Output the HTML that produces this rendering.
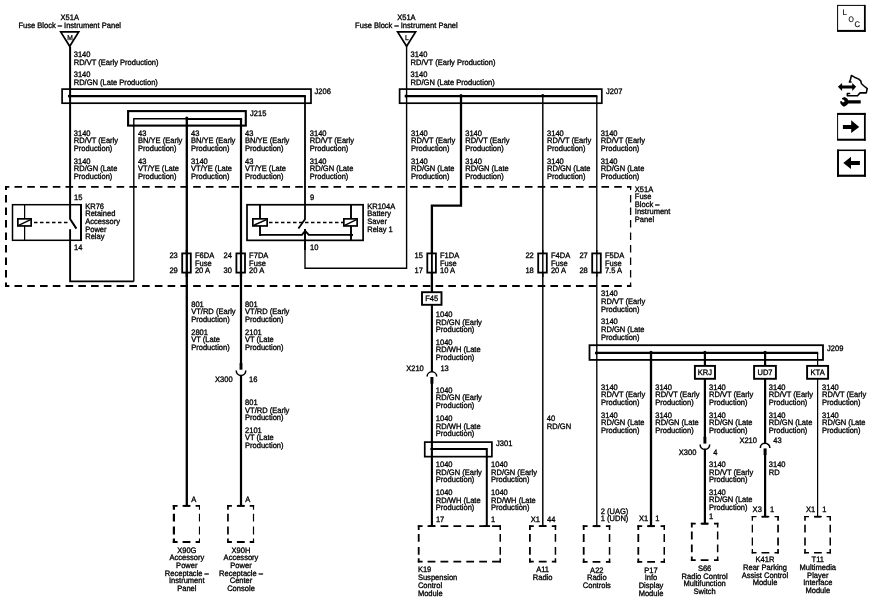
<!DOCTYPE html>
<html lang="en">
<head>
<meta charset="utf-8">
<title>Wiring diagram</title>
<style>
html,body{margin:0;padding:0;background:#fff;}
body{width:870px;height:612px;overflow:hidden;}
svg{display:block;will-change:transform;}
svg text{text-rendering:geometricPrecision;font-family:"Liberation Sans",Arial,Helvetica,sans-serif;font-size:7.9px;fill:#000;stroke:#000;stroke-width:0.32px;}
svg text.s{font-size:7.0px;stroke-width:0.3px;}
svg text.i{font-size:8px;stroke-width:0.15px;}
</style>
</head>
<body>
<svg width="870" height="612" viewBox="0 0 870 612">
<rect x="0" y="0" width="870" height="612" fill="#fff" stroke="none"/>
<g fill="none" stroke="#000" stroke-linecap="butt">
<text transform="translate(69.70 20.00) scale(0.955 1)" text-anchor="middle">X51A</text>
<text transform="translate(69.70 27.90) scale(0.955 1)" text-anchor="middle">Fuse Block – Instrument Panel</text>
<path d="M60.7 31.85 L78.7 31.85 L69.7 46.3 Z" stroke-width="1.7" stroke-linejoin="miter" stroke-miterlimit="10"/>
<text transform="translate(70.10 40.10) scale(0.955 1)" text-anchor="middle" class="s">M</text>
<path d="M70.10 46.50 L70.10 219.00 L76.40 228.60" stroke-width="2.0" stroke-linejoin="miter"/>
<text transform="translate(73.70 57.30) scale(0.955 1)">3140</text>
<text transform="translate(73.70 65.00) scale(0.955 1)">RD/VT (Early Production)</text>
<text transform="translate(73.70 77.20) scale(0.955 1)">3140</text>
<text transform="translate(73.70 84.90) scale(0.955 1)">RD/GN (Late Production)</text>
<rect x="62.10" y="89.10" width="248.90" height="14.10" stroke-width="1.7" />
<path d="M68.60 96.10 L305.90 96.10" stroke-width="2.1" />
<circle cx="69.40" cy="96.10" r="1.5" fill="#000" stroke="none"/>
<text transform="translate(314.50 94.30) scale(0.955 1)">J206</text>
<rect x="128.10" y="111.10" width="117.70" height="14.50" stroke-width="2.1" />
<text transform="translate(250.00 115.90) scale(0.955 1)">J215</text>
<path d="M133.80 281.40 L133.80 118.70 L186.80 118.70" stroke-width="1.4" stroke-linejoin="miter"/>
<path d="M186.80 118.90 L242.10 118.90" stroke-width="2.0" />
<circle cx="186.80" cy="118.20" r="1.6" fill="#000" stroke="none"/>
<text transform="translate(73.80 135.60) scale(0.955 1)">3140</text>
<text transform="translate(73.80 143.20) scale(0.955 1)">RD/VT (Early</text>
<text transform="translate(73.80 150.80) scale(0.955 1)">Production)</text>
<text transform="translate(73.80 163.60) scale(0.955 1)">3140</text>
<text transform="translate(73.80 171.20) scale(0.955 1)">RD/GN (Late</text>
<text transform="translate(73.80 178.80) scale(0.955 1)">Production)</text>
<text transform="translate(138.00 135.60) scale(0.955 1)">43</text>
<text transform="translate(138.00 143.20) scale(0.955 1)">BN/YE (Early</text>
<text transform="translate(138.00 150.80) scale(0.955 1)">Production)</text>
<text transform="translate(138.00 163.60) scale(0.955 1)">43</text>
<text transform="translate(138.00 171.20) scale(0.955 1)">VT/YE (Late</text>
<text transform="translate(138.00 178.80) scale(0.955 1)">Production)</text>
<text transform="translate(191.00 135.60) scale(0.955 1)">43</text>
<text transform="translate(191.00 143.20) scale(0.955 1)">BN/YE (Early</text>
<text transform="translate(191.00 150.80) scale(0.955 1)">Production)</text>
<text transform="translate(191.00 163.60) scale(0.955 1)">3140</text>
<text transform="translate(191.00 171.20) scale(0.955 1)">VT/YE (Late</text>
<text transform="translate(191.00 178.80) scale(0.955 1)">Production)</text>
<text transform="translate(245.00 135.60) scale(0.955 1)">43</text>
<text transform="translate(245.00 143.20) scale(0.955 1)">BN/YE (Early</text>
<text transform="translate(245.00 150.80) scale(0.955 1)">Production)</text>
<text transform="translate(245.00 163.60) scale(0.955 1)">43</text>
<text transform="translate(245.00 171.20) scale(0.955 1)">VT/YE (Late</text>
<text transform="translate(245.00 178.80) scale(0.955 1)">Production)</text>
<text transform="translate(309.80 135.60) scale(0.955 1)">3140</text>
<text transform="translate(309.80 143.20) scale(0.955 1)">RD/VT (Early</text>
<text transform="translate(309.80 150.80) scale(0.955 1)">Production)</text>
<text transform="translate(309.80 163.60) scale(0.955 1)">3140</text>
<text transform="translate(309.80 171.20) scale(0.955 1)">RD/GN (Late</text>
<text transform="translate(309.80 178.80) scale(0.955 1)">Production)</text>
<path d="M5.00 186.90 L631.20 186.90" stroke-width="1.9" stroke-dasharray="7.6 5.16" stroke-dashoffset="3.26"/>
<path d="M5.00 286.00 L631.20 286.00" stroke-width="2.0" stroke-dasharray="7.6 5.16" stroke-dashoffset="3.26"/>
<path d="M6.00 186.00 L6.00 287.00" stroke-width="2.0" stroke-dasharray="7.5 5" stroke-dashoffset="3.5"/>
<path d="M630.60 186.00 L630.60 287.00" stroke-width="1.3" stroke-dasharray="7.5 5" stroke-dashoffset="3.5"/>
<text transform="translate(634.80 191.60) scale(0.955 1)">X51A</text>
<text transform="translate(634.80 199.20) scale(0.955 1)">Fuse</text>
<text transform="translate(634.80 206.80) scale(0.955 1)">Block –</text>
<text transform="translate(634.80 214.40) scale(0.955 1)">Instrument</text>
<text transform="translate(634.80 222.00) scale(0.955 1)">Panel</text>
<rect x="12.50" y="204.70" width="68.50" height="35.60" stroke-width="1.5" />
<path d="M81.00 204.00 L81.00 241.10" stroke-width="2.0" />
<path d="M24.60 204.70 L24.60 240.30" stroke-width="1.25" />
<rect x="17.85" y="218.85" width="13.30" height="7.10" stroke-width="1.7" fill="#fff"/>
<path d="M18.60 225.30 L30.60 219.60" stroke-width="1.4" />
<path d="M34.00 222.50 L68.00 222.50" stroke-width="1.3" stroke-dasharray="3.5 2.5"/>
<path d="M70.10 229.20 L70.10 281.40 L133.80 281.40" stroke-width="1.9" stroke-linejoin="miter"/>
<text transform="translate(74.00 199.90) scale(0.955 1)">15</text>
<text transform="translate(74.00 249.90) scale(0.955 1)">14</text>
<text transform="translate(85.20 208.80) scale(0.955 1)">KR76</text>
<text transform="translate(85.20 216.45) scale(0.955 1)">Retained</text>
<text transform="translate(85.20 224.10) scale(0.955 1)">Accessory</text>
<text transform="translate(85.20 231.75) scale(0.955 1)">Power</text>
<text transform="translate(85.20 239.40) scale(0.955 1)">Relay</text>
<path d="M186.80 118.40 L186.80 505.50" stroke-width="2.3" />
<rect x="182.20" y="253.40" width="8.60" height="19.20" stroke-width="1.8" fill="#fff"/>
<path d="M186.80 250.00 L186.80 277.00" stroke-width="2.3" />
<text transform="translate(169.40 257.90) scale(0.955 1)">23</text>
<text transform="translate(169.40 273.40) scale(0.955 1)">29</text>
<text transform="translate(194.90 257.90) scale(0.955 1)">F6DA</text>
<text transform="translate(194.90 265.55) scale(0.955 1)">Fuse</text>
<text transform="translate(194.90 273.20) scale(0.955 1)">20 A</text>
<path d="M241.00 118.90 L241.00 363.00" stroke-width="2.2" />
<rect x="236.40" y="253.40" width="8.60" height="19.20" stroke-width="1.8" fill="#fff"/>
<path d="M241.00 250.00 L241.00 277.00" stroke-width="2.2" />
<text transform="translate(223.60 257.90) scale(0.955 1)">24</text>
<text transform="translate(223.60 273.40) scale(0.955 1)">30</text>
<text transform="translate(249.10 257.90) scale(0.955 1)">F7DA</text>
<text transform="translate(249.10 265.55) scale(0.955 1)">Fuse</text>
<text transform="translate(249.10 273.20) scale(0.955 1)">20 A</text>
<rect x="247.00" y="204.75" width="116.10" height="35.60" stroke-width="1.7" />
<path d="M260.00 204.70 L260.00 235.90" stroke-width="1.9" />
<path d="M351.00 204.70 L351.00 240.30" stroke-width="1.9" />
<path d="M260.00 234.90 L302.00 234.90 L305.20 230.90 L308.80 234.90 L353.00 234.90" stroke-width="1.9" stroke-linejoin="miter"/>
<circle cx="351.00" cy="235.00" r="1.5" fill="#000" stroke="none"/>
<rect x="252.85" y="218.85" width="14.30" height="7.10" stroke-width="1.7" fill="#fff"/>
<path d="M253.60 225.30 L266.50 219.60" stroke-width="1.4" />
<rect x="343.85" y="218.85" width="13.30" height="7.10" stroke-width="1.7" fill="#fff"/>
<path d="M344.60 225.30 L356.50 219.60" stroke-width="1.4" />
<path d="M269.00 222.50 L343.50 222.50" stroke-width="1.3" stroke-dasharray="3.5 2.5"/>
<path d="M305.00 96.10 L305.00 219.20 L298.40 228.60" stroke-width="1.8" stroke-linejoin="miter"/>
<path d="M305.00 229.00 L305.00 268.30 L406.60 268.30 L406.60 46.50" stroke-width="1.4" stroke-linejoin="miter"/>
<path d="M305.00 229.00 L305.00 250.00" stroke-width="1.8" />
<text transform="translate(310.00 199.80) scale(0.955 1)">9</text>
<text transform="translate(310.00 249.90) scale(0.955 1)">10</text>
<text transform="translate(367.20 208.70) scale(0.955 1)">KR104A</text>
<text transform="translate(367.20 216.40) scale(0.955 1)">Battery</text>
<text transform="translate(367.20 224.10) scale(0.955 1)">Saver</text>
<text transform="translate(367.20 231.80) scale(0.955 1)">Relay 1</text>
<text transform="translate(406.40 20.00) scale(0.955 1)" text-anchor="middle">X51A</text>
<text transform="translate(406.40 27.90) scale(0.955 1)" text-anchor="middle">Fuse Block – Instrument Panel</text>
<path d="M397.6 31.85 L415.6 31.85 L406.6 46.3 Z" stroke-width="1.7" stroke-linejoin="miter" stroke-miterlimit="10"/>
<text transform="translate(406.90 40.10) scale(0.955 1)" text-anchor="middle" class="s">L</text>
<text transform="translate(410.60 57.30) scale(0.955 1)">3140</text>
<text transform="translate(410.60 65.00) scale(0.955 1)">RD/VT (Early Production)</text>
<text transform="translate(410.60 77.20) scale(0.955 1)">3140</text>
<text transform="translate(410.60 84.90) scale(0.955 1)">RD/GN (Late Production)</text>
<rect x="399.60" y="89.10" width="202.20" height="14.10" stroke-width="1.7" />
<text transform="translate(606.00 94.30) scale(0.955 1)">J207</text>
<path d="M405.20 96.10 L597.40 96.10" stroke-width="2.1" />
<circle cx="406.00" cy="96.10" r="1.5" fill="#000" stroke="none"/>
<circle cx="461.00" cy="95.60" r="1.6" fill="#000" stroke="none"/>
<circle cx="542.80" cy="95.60" r="1.6" fill="#000" stroke="none"/>
<text transform="translate(411.00 135.60) scale(0.955 1)">3140</text>
<text transform="translate(411.00 143.20) scale(0.955 1)">RD/VT (Early</text>
<text transform="translate(411.00 150.80) scale(0.955 1)">Production)</text>
<text transform="translate(411.00 163.60) scale(0.955 1)">3140</text>
<text transform="translate(411.00 171.20) scale(0.955 1)">RD/GN (Late</text>
<text transform="translate(411.00 178.80) scale(0.955 1)">Production)</text>
<text transform="translate(465.20 135.60) scale(0.955 1)">3140</text>
<text transform="translate(465.20 143.20) scale(0.955 1)">RD/VT (Early</text>
<text transform="translate(465.20 150.80) scale(0.955 1)">Production)</text>
<text transform="translate(465.20 163.60) scale(0.955 1)">3140</text>
<text transform="translate(465.20 171.20) scale(0.955 1)">RD/GN (Late</text>
<text transform="translate(465.20 178.80) scale(0.955 1)">Production)</text>
<text transform="translate(547.00 135.60) scale(0.955 1)">3140</text>
<text transform="translate(547.00 143.20) scale(0.955 1)">RD/VT (Early</text>
<text transform="translate(547.00 150.80) scale(0.955 1)">Production)</text>
<text transform="translate(547.00 163.60) scale(0.955 1)">3140</text>
<text transform="translate(547.00 171.20) scale(0.955 1)">RD/GN (Late</text>
<text transform="translate(547.00 178.80) scale(0.955 1)">Production)</text>
<text transform="translate(600.80 135.60) scale(0.955 1)">3140</text>
<text transform="translate(600.80 143.20) scale(0.955 1)">RD/VT (Early</text>
<text transform="translate(600.80 150.80) scale(0.955 1)">Production)</text>
<text transform="translate(600.80 163.60) scale(0.955 1)">3140</text>
<text transform="translate(600.80 171.20) scale(0.955 1)">RD/GN (Late</text>
<text transform="translate(600.80 178.80) scale(0.955 1)">Production)</text>
<path d="M461.00 96.10 L461.00 205.70 L431.90 205.70 L431.90 292.00" stroke-width="2.3" stroke-linejoin="miter"/>
<rect x="427.30" y="253.40" width="8.60" height="19.20" stroke-width="1.8" fill="#fff"/>
<path d="M431.90 250.00 L431.90 277.00" stroke-width="1.9" />
<text transform="translate(414.50 257.90) scale(0.955 1)">15</text>
<text transform="translate(414.50 273.40) scale(0.955 1)">17</text>
<text transform="translate(440.00 257.90) scale(0.955 1)">F1DA</text>
<text transform="translate(440.00 265.55) scale(0.955 1)">Fuse</text>
<text transform="translate(440.00 273.20) scale(0.955 1)">10 A</text>
<path d="M542.80 96.10 L542.80 526.00" stroke-width="1.45" />
<rect x="538.20" y="253.40" width="8.60" height="19.20" stroke-width="1.8" fill="#fff"/>
<path d="M542.80 250.00 L542.80 277.00" stroke-width="1.45" />
<text transform="translate(525.40 257.90) scale(0.955 1)">22</text>
<text transform="translate(525.40 273.40) scale(0.955 1)">18</text>
<text transform="translate(550.90 257.90) scale(0.955 1)">F4DA</text>
<text transform="translate(550.90 265.55) scale(0.955 1)">Fuse</text>
<text transform="translate(550.90 273.20) scale(0.955 1)">20 A</text>
<path d="M596.80 96.10 L596.80 526.00" stroke-width="1.35" />
<rect x="592.20" y="253.40" width="8.60" height="19.20" stroke-width="1.8" fill="#fff"/>
<path d="M596.80 250.00 L596.80 277.00" stroke-width="1.35" />
<text transform="translate(579.40 257.90) scale(0.955 1)">27</text>
<text transform="translate(579.40 273.40) scale(0.955 1)">28</text>
<text transform="translate(604.90 257.90) scale(0.955 1)">F5DA</text>
<text transform="translate(604.90 265.55) scale(0.955 1)">Fuse</text>
<text transform="translate(604.90 273.20) scale(0.955 1)">7.5 A</text>
<rect x="422.00" y="292.20" width="19.50" height="12.60" stroke-width="1.9" fill="#fff"/>
<text transform="translate(431.75 301.20) scale(0.955 1)" text-anchor="middle">F45</text>
<path d="M431.90 305.00 L431.90 372.00" stroke-width="2.1" />
<text transform="translate(435.80 317.10) scale(0.955 1)">1040</text>
<text transform="translate(435.80 324.70) scale(0.955 1)">RD/GN (Early</text>
<text transform="translate(435.80 332.30) scale(0.955 1)">Production)</text>
<text transform="translate(435.80 344.80) scale(0.955 1)">1040</text>
<text transform="translate(435.80 352.40) scale(0.955 1)">RD/WH (Late</text>
<text transform="translate(435.80 360.00) scale(0.955 1)">Production)</text>
<text transform="translate(406.20 370.90) scale(0.955 1)">X210</text>
<text transform="translate(440.40 370.90) scale(0.955 1)">13</text>
<path d="M427.10 376.60 A4.8 4.8 0 0 1 436.70 376.60" stroke-width="1.5"/>
<path d="M431.90 377.00 L431.90 383.70" stroke-width="3.0" />
<path d="M431.90 383.00 L431.90 526.00" stroke-width="2.1" />
<text transform="translate(435.80 392.70) scale(0.955 1)">1040</text>
<text transform="translate(435.80 400.30) scale(0.955 1)">RD/GN (Early</text>
<text transform="translate(435.80 407.90) scale(0.955 1)">Production)</text>
<text transform="translate(435.80 420.90) scale(0.955 1)">1040</text>
<text transform="translate(435.80 428.50) scale(0.955 1)">RD/WH (Late</text>
<text transform="translate(435.80 436.10) scale(0.955 1)">Production)</text>
<rect x="424.75" y="442.10" width="67.15" height="14.55" stroke-width="1.7" />
<text transform="translate(496.00 446.30) scale(0.955 1)">J301</text>
<path d="M430.40 449.10 L486.80 449.10 L486.80 526.00" stroke-width="2.0" stroke-linejoin="miter"/>
<text transform="translate(435.80 467.10) scale(0.955 1)">1040</text>
<text transform="translate(435.80 474.70) scale(0.955 1)">RD/GN (Early</text>
<text transform="translate(435.80 482.30) scale(0.955 1)">Production)</text>
<text transform="translate(435.80 494.90) scale(0.955 1)">1040</text>
<text transform="translate(435.80 502.50) scale(0.955 1)">RD/WH (Late</text>
<text transform="translate(435.80 510.10) scale(0.955 1)">Production)</text>
<text transform="translate(491.00 467.10) scale(0.955 1)">1040</text>
<text transform="translate(491.00 474.70) scale(0.955 1)">RD/GN (Early</text>
<text transform="translate(491.00 482.30) scale(0.955 1)">Production)</text>
<text transform="translate(491.00 494.90) scale(0.955 1)">1040</text>
<text transform="translate(491.00 502.50) scale(0.955 1)">RD/WH (Late</text>
<text transform="translate(491.00 510.10) scale(0.955 1)">Production)</text>
<text transform="translate(435.90 521.50) scale(0.955 1)">17</text>
<text transform="translate(491.00 521.50) scale(0.955 1)">1</text>
<path d="M417.80 526.10 L422.60 526.10 M427.60 526.10 L435.40 526.10 M440.50 526.10 L448.30 526.10 M453.40 526.10 L461.20 526.10 M466.30 526.10 L474.10 526.10 M479.20 526.10 L487.00 526.10 M492.10 526.10 L499.90 526.10 M496.60 526.10 L501.00 526.10" stroke-width="1.8"/>
<path d="M417.80 561.70 L422.60 561.70 M427.60 561.70 L435.40 561.70 M440.50 561.70 L448.30 561.70 M453.40 561.70 L461.20 561.70 M466.30 561.70 L474.10 561.70 M479.20 561.70 L487.00 561.70 M492.10 561.70 L499.90 561.70 M496.60 561.70 L501.00 561.70" stroke-width="1.8"/>
<path d="M418.70 525.20 L418.70 530.00 M418.70 534.00 L418.70 541.80 M418.70 546.90 L418.70 554.70 M418.70 558.20 L418.70 562.60" stroke-width="1.8"/>
<path d="M500.25 525.20 L500.25 530.00 M500.25 534.00 L500.25 541.80 M500.25 546.90 L500.25 554.70 M500.25 558.20 L500.25 562.60" stroke-width="1.5"/>
<text transform="translate(417.90 572.30) scale(0.955 1)">K19</text>
<text transform="translate(417.90 580.05) scale(0.955 1)">Suspension</text>
<text transform="translate(417.90 587.80) scale(0.955 1)">Control</text>
<text transform="translate(417.90 595.55) scale(0.955 1)">Module</text>
<text transform="translate(546.80 420.90) scale(0.955 1)">40</text>
<text transform="translate(546.80 428.50) scale(0.955 1)">RD/GN</text>
<text transform="translate(530.70 521.50) scale(0.955 1)">X1</text>
<text transform="translate(547.00 521.50) scale(0.955 1)">44</text>
<path d="M529.00 526.10 L533.80 526.10 M538.80 526.10 L546.60 526.10 M551.80 526.10 L556.20 526.10" stroke-width="1.8"/>
<path d="M529.00 561.70 L533.80 561.70 M538.80 561.70 L546.60 561.70 M551.80 561.70 L556.20 561.70" stroke-width="1.8"/>
<path d="M529.90 525.20 L529.90 530.00 M529.90 534.00 L529.90 541.80 M529.90 546.90 L529.90 554.70 M529.90 558.20 L529.90 562.60" stroke-width="1.8"/>
<path d="M555.45 525.20 L555.45 530.00 M555.45 534.00 L555.45 541.80 M555.45 546.90 L555.45 554.70 M555.45 558.20 L555.45 562.60" stroke-width="1.5"/>
<text transform="translate(542.60 572.30) scale(0.955 1)" text-anchor="middle">A11</text>
<text transform="translate(542.60 580.05) scale(0.955 1)" text-anchor="middle">Radio</text>
<text transform="translate(191.20 306.50) scale(0.955 1)">801</text>
<text transform="translate(191.20 314.10) scale(0.955 1)">VT/RD (Early</text>
<text transform="translate(191.20 321.70) scale(0.955 1)">Production)</text>
<text transform="translate(191.20 334.50) scale(0.955 1)">2801</text>
<text transform="translate(191.20 342.10) scale(0.955 1)">VT (Late</text>
<text transform="translate(191.20 349.70) scale(0.955 1)">Production)</text>
<text transform="translate(245.00 306.50) scale(0.955 1)">801</text>
<text transform="translate(245.00 314.10) scale(0.955 1)">VT/RD (Early</text>
<text transform="translate(245.00 321.70) scale(0.955 1)">Production)</text>
<text transform="translate(245.00 334.50) scale(0.955 1)">2101</text>
<text transform="translate(245.00 342.10) scale(0.955 1)">VT (Late</text>
<text transform="translate(245.00 349.70) scale(0.955 1)">Production)</text>
<text transform="translate(215.00 381.80) scale(0.955 1)">X300</text>
<text transform="translate(249.00 381.80) scale(0.955 1)">16</text>
<path d="M236.20 370.50 A4.8 4.9 0 0 0 245.80 370.50" stroke-width="1.5"/>
<path d="M241.00 363.00 L241.00 369.70" stroke-width="2.9" />
<path d="M241.00 375.00 L241.00 505.50" stroke-width="2.2" />
<text transform="translate(245.00 404.90) scale(0.955 1)">801</text>
<text transform="translate(245.00 412.50) scale(0.955 1)">VT/RD (Early</text>
<text transform="translate(245.00 420.10) scale(0.955 1)">Production)</text>
<text transform="translate(245.00 432.80) scale(0.955 1)">2101</text>
<text transform="translate(245.00 440.40) scale(0.955 1)">VT (Late</text>
<text transform="translate(245.00 448.00) scale(0.955 1)">Production)</text>
<text transform="translate(191.20 501.90) scale(0.955 1)">A</text>
<text transform="translate(245.30 501.90) scale(0.955 1)">A</text>
<path d="M172.80 505.80 L177.60 505.80 M182.60 505.80 L190.40 505.80 M195.60 505.80 L200.00 505.80" stroke-width="1.8"/>
<path d="M172.80 542.00 L177.60 542.00 M182.60 542.00 L190.40 542.00 M195.60 542.00 L200.00 542.00" stroke-width="1.8"/>
<path d="M173.90 504.90 L173.90 509.70 M173.90 513.70 L173.90 521.50 M173.90 526.60 L173.90 534.40 M173.90 538.50 L173.90 542.90" stroke-width="2.2"/>
<path d="M199.45 504.90 L199.45 509.70 M199.45 513.70 L199.45 521.50 M199.45 526.60 L199.45 534.40 M199.45 538.50 L199.45 542.90" stroke-width="1.1"/>
<path d="M227.10 505.80 L231.90 505.80 M236.90 505.80 L244.70 505.80 M249.70 505.80 L254.10 505.80" stroke-width="1.8"/>
<path d="M227.10 542.00 L231.90 542.00 M236.90 542.00 L244.70 542.00 M249.70 542.00 L254.10 542.00" stroke-width="1.8"/>
<path d="M227.95 504.90 L227.95 509.70 M227.95 513.70 L227.95 521.50 M227.95 526.60 L227.95 534.40 M227.95 538.50 L227.95 542.90" stroke-width="1.7"/>
<path d="M253.50 504.90 L253.50 509.70 M253.50 513.70 L253.50 521.50 M253.50 526.60 L253.50 534.40 M253.50 538.50 L253.50 542.90" stroke-width="1.2"/>
<text transform="translate(186.80 552.80) scale(0.955 1)" text-anchor="middle">X90G</text>
<text transform="translate(186.80 560.45) scale(0.955 1)" text-anchor="middle">Accessory</text>
<text transform="translate(186.80 568.10) scale(0.955 1)" text-anchor="middle">Power</text>
<text transform="translate(186.80 575.75) scale(0.955 1)" text-anchor="middle">Receptacle –</text>
<text transform="translate(186.80 583.40) scale(0.955 1)" text-anchor="middle">Instrument</text>
<text transform="translate(186.80 591.05) scale(0.955 1)" text-anchor="middle">Panel</text>
<text transform="translate(241.00 552.80) scale(0.955 1)" text-anchor="middle">X90H</text>
<text transform="translate(241.00 560.45) scale(0.955 1)" text-anchor="middle">Accessory</text>
<text transform="translate(241.00 568.10) scale(0.955 1)" text-anchor="middle">Power</text>
<text transform="translate(241.00 575.75) scale(0.955 1)" text-anchor="middle">Receptacle –</text>
<text transform="translate(241.00 583.40) scale(0.955 1)" text-anchor="middle">Center</text>
<text transform="translate(241.00 591.05) scale(0.955 1)" text-anchor="middle">Console</text>
<text transform="translate(601.00 296.40) scale(0.955 1)">3140</text>
<text transform="translate(601.00 304.00) scale(0.955 1)">RD/VT (Early</text>
<text transform="translate(601.00 311.60) scale(0.955 1)">Production)</text>
<text transform="translate(601.00 324.40) scale(0.955 1)">3140</text>
<text transform="translate(601.00 332.00) scale(0.955 1)">RD/GN (Late</text>
<text transform="translate(601.00 339.60) scale(0.955 1)">Production)</text>
<rect x="589.50" y="345.20" width="233.50" height="14.70" stroke-width="1.8" />
<text transform="translate(827.00 350.50) scale(0.955 1)">J209</text>
<path d="M817.60 352.90 L817.60 516.00" stroke-width="1.25" />
<path d="M595.40 352.90 L818.20 352.90" stroke-width="2.1" />
<circle cx="596.40" cy="352.90" r="1.5" fill="#000" stroke="none"/>
<circle cx="651.00" cy="352.40" r="1.6" fill="#000" stroke="none"/>
<circle cx="704.90" cy="352.40" r="1.6" fill="#000" stroke="none"/>
<circle cx="765.10" cy="352.40" r="1.6" fill="#000" stroke="none"/>
<path d="M651.00 352.90 L651.00 526.00" stroke-width="2.3" />
<path d="M704.90 352.90 L704.90 438.00" stroke-width="2.2" />
<path d="M765.10 352.90 L765.10 444.00" stroke-width="2.2" />
<rect x="694.90" y="365.90" width="20.10" height="12.90" stroke-width="1.9" fill="#fff"/>
<text transform="translate(704.95 375.20) scale(0.955 1)" text-anchor="middle">KRJ</text>
<rect x="754.10" y="365.90" width="21.80" height="12.90" stroke-width="1.9" fill="#fff"/>
<text transform="translate(765.00 375.20) scale(0.955 1)" text-anchor="middle">UD7</text>
<rect x="807.10" y="365.90" width="21.00" height="12.90" stroke-width="1.9" fill="#fff"/>
<text transform="translate(817.60 375.20) scale(0.955 1)" text-anchor="middle">KTA</text>
<text transform="translate(601.00 389.60) scale(0.955 1)">3140</text>
<text transform="translate(601.00 397.20) scale(0.955 1)">RD/VT (Early</text>
<text transform="translate(601.00 404.80) scale(0.955 1)">Production)</text>
<text transform="translate(601.00 417.50) scale(0.955 1)">3140</text>
<text transform="translate(601.00 425.10) scale(0.955 1)">RD/GN (Late</text>
<text transform="translate(601.00 432.70) scale(0.955 1)">Production)</text>
<text transform="translate(655.20 389.60) scale(0.955 1)">3140</text>
<text transform="translate(655.20 397.20) scale(0.955 1)">RD/VT (Early</text>
<text transform="translate(655.20 404.80) scale(0.955 1)">Production)</text>
<text transform="translate(655.20 417.50) scale(0.955 1)">3140</text>
<text transform="translate(655.20 425.10) scale(0.955 1)">RD/GN (Late</text>
<text transform="translate(655.20 432.70) scale(0.955 1)">Production)</text>
<text transform="translate(709.00 389.60) scale(0.955 1)">3140</text>
<text transform="translate(709.00 397.20) scale(0.955 1)">RD/VT (Early</text>
<text transform="translate(709.00 404.80) scale(0.955 1)">Production)</text>
<text transform="translate(709.00 417.50) scale(0.955 1)">3140</text>
<text transform="translate(709.00 425.10) scale(0.955 1)">RD/GN (Late</text>
<text transform="translate(709.00 432.70) scale(0.955 1)">Production)</text>
<text transform="translate(768.80 389.60) scale(0.955 1)">3140</text>
<text transform="translate(768.80 397.20) scale(0.955 1)">RD/VT (Early</text>
<text transform="translate(768.80 404.80) scale(0.955 1)">Production)</text>
<text transform="translate(768.80 417.50) scale(0.955 1)">3140</text>
<text transform="translate(768.80 425.10) scale(0.955 1)">RD/GN (Late</text>
<text transform="translate(768.80 432.70) scale(0.955 1)">Production)</text>
<text transform="translate(822.00 389.60) scale(0.955 1)">3140</text>
<text transform="translate(822.00 397.20) scale(0.955 1)">RD/VT (Early</text>
<text transform="translate(822.00 404.80) scale(0.955 1)">Production)</text>
<text transform="translate(822.00 417.50) scale(0.955 1)">3140</text>
<text transform="translate(822.00 425.10) scale(0.955 1)">RD/GN (Late</text>
<text transform="translate(822.00 432.70) scale(0.955 1)">Production)</text>
<text transform="translate(600.70 513.60) scale(0.955 1)">2 (UAG)</text>
<text transform="translate(600.70 521.30) scale(0.955 1)">1 (UDN)</text>
<path d="M582.80 526.20 L587.60 526.20 M592.60 526.20 L600.40 526.20 M605.90 526.20 L610.30 526.20" stroke-width="1.8"/>
<path d="M582.80 561.90 L587.60 561.90 M592.60 561.90 L600.40 561.90 M605.90 561.90 L610.30 561.90" stroke-width="1.8"/>
<path d="M583.70 525.30 L583.70 530.10 M583.70 534.10 L583.70 541.90 M583.70 547.00 L583.70 554.80 M583.70 558.40 L583.70 562.80" stroke-width="1.8"/>
<path d="M609.55 525.30 L609.55 530.10 M609.55 534.10 L609.55 541.90 M609.55 547.00 L609.55 554.80 M609.55 558.40 L609.55 562.80" stroke-width="1.5"/>
<text transform="translate(596.80 572.80) scale(0.955 1)" text-anchor="middle">A22</text>
<text transform="translate(596.80 580.45) scale(0.955 1)" text-anchor="middle">Radio</text>
<text transform="translate(596.80 588.10) scale(0.955 1)" text-anchor="middle">Controls</text>
<text transform="translate(639.00 521.30) scale(0.955 1)">X1</text>
<text transform="translate(655.30 521.30) scale(0.955 1)">1</text>
<path d="M637.40 526.20 L642.20 526.20 M647.20 526.20 L655.00 526.20 M660.60 526.20 L665.00 526.20" stroke-width="1.8"/>
<path d="M637.40 561.90 L642.20 561.90 M647.20 561.90 L655.00 561.90 M660.60 561.90 L665.00 561.90" stroke-width="1.8"/>
<path d="M638.30 525.30 L638.30 530.10 M638.30 534.10 L638.30 541.90 M638.30 547.00 L638.30 554.80 M638.30 558.40 L638.30 562.80" stroke-width="1.8"/>
<path d="M664.25 525.30 L664.25 530.10 M664.25 534.10 L664.25 541.90 M664.25 547.00 L664.25 554.80 M664.25 558.40 L664.25 562.80" stroke-width="1.5"/>
<text transform="translate(651.00 572.80) scale(0.955 1)" text-anchor="middle">P17</text>
<text transform="translate(651.00 580.45) scale(0.955 1)" text-anchor="middle">Info</text>
<text transform="translate(651.00 588.10) scale(0.955 1)" text-anchor="middle">Display</text>
<text transform="translate(651.00 595.75) scale(0.955 1)" text-anchor="middle">Module</text>
<path d="M700.10 444.40 A4.8 4.9 0 0 0 709.70 444.40" stroke-width="1.5"/>
<path d="M704.90 436.90 L704.90 443.60" stroke-width="2.9" />
<path d="M704.90 448.90 L704.90 523.60" stroke-width="2.2" />
<text transform="translate(678.80 455.40) scale(0.955 1)">X300</text>
<text transform="translate(713.30 455.40) scale(0.955 1)">4</text>
<text transform="translate(709.00 466.90) scale(0.955 1)">3140</text>
<text transform="translate(709.00 474.50) scale(0.955 1)">RD/VT (Early</text>
<text transform="translate(709.00 482.10) scale(0.955 1)">Production)</text>
<text transform="translate(709.00 494.50) scale(0.955 1)">3140</text>
<text transform="translate(709.00 502.10) scale(0.955 1)">RD/GN (Late</text>
<text transform="translate(709.00 509.70) scale(0.955 1)">Production)</text>
<text transform="translate(709.00 519.10) scale(0.955 1)">1</text>
<path d="M690.90 523.70 L695.70 523.70 M700.70 523.70 L708.50 523.70 M714.00 523.70 L718.40 523.70" stroke-width="1.8"/>
<path d="M690.90 560.10 L695.70 560.10 M700.70 560.10 L708.50 560.10 M714.00 560.10 L718.40 560.10" stroke-width="1.8"/>
<path d="M691.80 522.80 L691.80 527.60 M691.80 531.60 L691.80 539.40 M691.80 544.50 L691.80 552.30 M691.80 556.60 L691.80 561.00" stroke-width="1.8"/>
<path d="M717.65 522.80 L717.65 527.60 M717.65 531.60 L717.65 539.40 M717.65 544.50 L717.65 552.30 M717.65 556.60 L717.65 561.00" stroke-width="1.5"/>
<text transform="translate(704.60 571.00) scale(0.955 1)" text-anchor="middle">S66</text>
<text transform="translate(704.60 578.55) scale(0.955 1)" text-anchor="middle">Radio Control</text>
<text transform="translate(704.60 586.10) scale(0.955 1)" text-anchor="middle">Multifunction</text>
<text transform="translate(704.60 593.65) scale(0.955 1)" text-anchor="middle">Switch</text>
<text transform="translate(739.40 442.90) scale(0.955 1)">X210</text>
<text transform="translate(773.30 442.90) scale(0.955 1)">43</text>
<path d="M760.30 448.00 A4.8 4.8 0 0 1 769.90 448.00" stroke-width="1.5"/>
<path d="M765.10 448.40 L765.10 455.10" stroke-width="3.0" />
<path d="M765.10 455.00 L765.10 516.00" stroke-width="2.2" />
<text transform="translate(768.80 466.90) scale(0.955 1)">3140</text>
<text transform="translate(768.80 474.50) scale(0.955 1)">RD</text>
<text transform="translate(752.60 511.90) scale(0.955 1)">X3</text>
<text transform="translate(770.00 511.90) scale(0.955 1)">1</text>
<path d="M751.70 516.60 L756.50 516.60 M761.50 516.60 L769.30 516.60 M774.50 516.60 L778.90 516.60" stroke-width="1.4"/>
<path d="M751.70 552.65 L756.50 552.65 M761.50 552.65 L769.30 552.65 M774.50 552.65 L778.90 552.65" stroke-width="1.5"/>
<path d="M752.35 515.90 L752.35 520.70 M752.35 524.70 L752.35 532.50 M752.35 537.60 L752.35 545.40 M752.35 549.00 L752.35 553.40" stroke-width="1.3"/>
<path d="M778.05 515.90 L778.05 520.70 M778.05 524.70 L778.05 532.50 M778.05 537.60 L778.05 545.40 M778.05 549.00 L778.05 553.40" stroke-width="1.7"/>
<text transform="translate(765.00 562.10) scale(0.955 1)" text-anchor="middle">K41R</text>
<text transform="translate(765.00 569.80) scale(0.955 1)" text-anchor="middle">Rear Parking</text>
<text transform="translate(765.00 577.50) scale(0.955 1)" text-anchor="middle">Assist Control</text>
<text transform="translate(765.00 585.20) scale(0.955 1)" text-anchor="middle">Module</text>
<text transform="translate(806.00 511.90) scale(0.955 1)">X1</text>
<text transform="translate(822.30 511.90) scale(0.955 1)">1</text>
<path d="M804.20 516.60 L809.00 516.60 M814.00 516.60 L821.80 516.60 M826.60 516.60 L831.00 516.60" stroke-width="1.4"/>
<path d="M804.20 552.65 L809.00 552.65 M814.00 552.65 L821.80 552.65 M826.60 552.65 L831.00 552.65" stroke-width="1.5"/>
<path d="M805.00 515.90 L805.00 520.70 M805.00 524.70 L805.00 532.50 M805.00 537.60 L805.00 545.40 M805.00 549.00 L805.00 553.40" stroke-width="1.6"/>
<path d="M830.25 515.90 L830.25 520.70 M830.25 524.70 L830.25 532.50 M830.25 537.60 L830.25 545.40 M830.25 549.00 L830.25 553.40" stroke-width="1.5"/>
<text transform="translate(817.80 562.10) scale(0.955 1)" text-anchor="middle">T11</text>
<text transform="translate(817.80 569.80) scale(0.955 1)" text-anchor="middle">Multimedia</text>
<text transform="translate(817.80 577.50) scale(0.955 1)" text-anchor="middle">Player</text>
<text transform="translate(817.80 585.20) scale(0.955 1)" text-anchor="middle">Interface</text>
<text transform="translate(817.80 592.90) scale(0.955 1)" text-anchor="middle">Module</text>
<path d="M183.50 505.80 L190.10 505.80" stroke-width="1.8" />
<path d="M237.70 505.80 L244.30 505.80" stroke-width="1.8" />
<path d="M428.60 526.10 L435.20 526.10" stroke-width="1.8" />
<path d="M483.50 526.10 L490.10 526.10" stroke-width="1.8" />
<path d="M539.50 526.10 L546.10 526.10" stroke-width="1.8" />
<path d="M593.50 526.20 L600.10 526.20" stroke-width="1.8" />
<path d="M647.70 526.20 L654.30 526.20" stroke-width="1.8" />
<path d="M701.60 523.70 L708.20 523.70" stroke-width="1.8" />
<path d="M761.80 516.70 L768.40 516.70" stroke-width="1.8" />
<path d="M814.30 516.70 L820.90 516.70" stroke-width="1.8" />
<rect x="837.60" y="5.40" width="27.20" height="25.50" stroke-width="1.0" fill="#fff"/>
<path d="M864.80 4.90 L864.80 31.90" stroke-width="1.7" />
<path d="M837.10 30.90 L865.65 30.90" stroke-width="2.0" />
<text transform="translate(842.60 15.10) scale(1 1)" class="i">L</text>
<text transform="translate(848.60 21.90) scale(0.85 1)" class="i">O</text>
<text transform="translate(854.50 27.10) scale(0.95 1)" class="i">C</text>
<path d="M837.84 86.86 L842.09 82.94 L842.09 85.42 L852.22 85.42 L852.22 82.94 L856.14 86.86 L852.22 90.92 L852.22 88.56 L842.09 88.56 L842.09 90.92 Z" fill="#000" stroke="none"/>
<path d="M841.90 98.24 L844.51 97.06 L847.12 98.50 L848.30 100.20 L860.72 100.20 L860.72 103.59 L848.30 103.59 L846.73 105.29 L843.99 106.73 L842.29 105.82 L840.46 103.46 L840.20 101.37 L841.50 101.11 L842.81 102.42 L844.51 101.76 L844.12 100.07 L842.16 99.28 Z" fill="#000" stroke="none"/>
<path d="M849.61 93.53 L847.32 93.53 L847.32 95.82 L857.45 95.82 L860.07 92.88 L866.27 92.88 L867.25 88.63 L863.99 86.01 L861.50 83.73 L860.72 80.78 L858.76 79.15 L854.51 77.19 L851.44 75.49 L850.39 79.80 L849.35 82.09 L851.05 82.09" stroke-width="1.55" stroke-linejoin="round" stroke-linecap="round"/>
<rect x="837.60" y="113.90" width="27.20" height="25.80" stroke-width="1.0" fill="#fff"/>
<path d="M837.10 113.90 L865.60 113.90" stroke-width="2.0" />
<path d="M837.10 139.70 L865.60 139.70" stroke-width="2.0" />
<path d="M864.80 112.90 L864.80 140.70" stroke-width="1.7" />
<path d="M842.9 125.0 L851.2 125.0 L851.2 120.3 L859.2 126.9 L851.2 133.1 L851.2 128.9 L842.9 128.9 Z" fill="#000" stroke="none"/>
<rect x="838.00" y="150.30" width="26.80" height="25.40" stroke-width="1.5" fill="#fff"/>
<path d="M837.10 175.70 L865.80 175.70" stroke-width="2.0" />
<path d="M864.90 149.60 L864.90 176.70" stroke-width="1.8" />
<path d="M838.00 149.60 L838.00 176.70" stroke-width="1.8" />
<path d="M859.9 161.1 L851.0 161.1 L851.0 156.8 L843.3 163.0 L851.0 169.1 L851.0 164.9 L859.9 164.9 Z" fill="#000" stroke="none"/>
</g>
</svg>
</body>
</html>
